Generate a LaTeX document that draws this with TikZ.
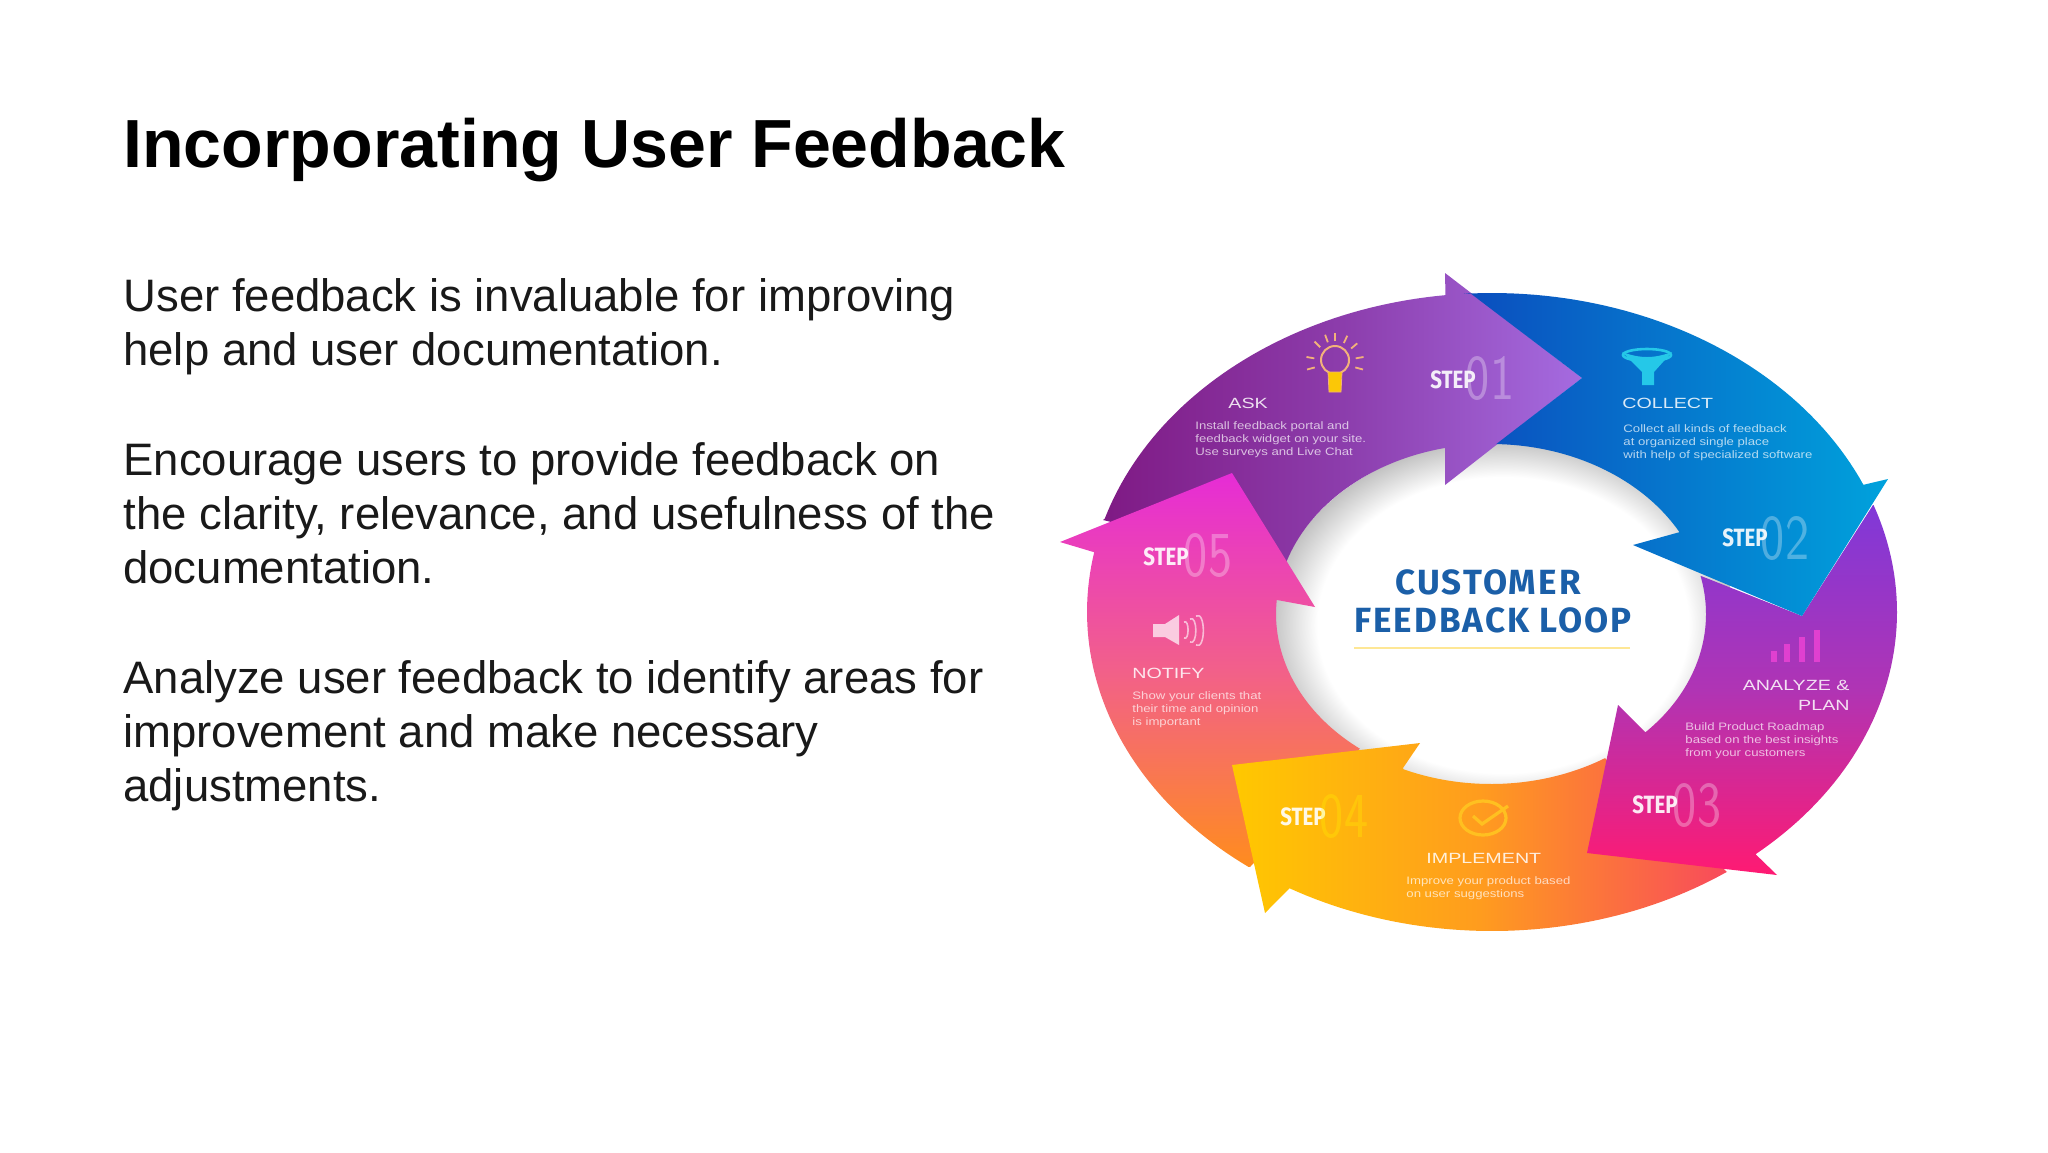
\documentclass[tikz,border=0pt]{standalone}
\usepackage{fontspec}
\usepackage{graphicx}
\setmainfont{Liberation Sans}
\newfontfamily\loopfont{Fira Sans}[LetterSpace=6]
\newfontfamily\stepfont{Fira Sans}[FakeStretch=0.82]
\newfontfamily\headfont{Liberation Sans}[FakeStretch=1.33]
\newfontfamily\labelfont{Liberation Sans}[FakeStretch=1.22]
\usetikzlibrary{positioning}

\definecolor{loopblue}{HTML}{1B5FA8}
\definecolor{askdark}{HTML}{7F1A84}
\definecolor{askmid}{HTML}{8C3DAC}
\definecolor{asklight}{HTML}{A56BE0}
\definecolor{bluedark}{HTML}{0B4DBE}
\definecolor{bluelight}{HTML}{00A2DC}
\definecolor{plantop}{HTML}{8038D8}
\definecolor{planmid}{HTML}{B034B4}
\definecolor{planlow}{HTML}{FF1A72}
\definecolor{doleft}{HTML}{FFC800}
\definecolor{domid}{HTML}{FF9C1E}
\definecolor{doright}{HTML}{F84A5C}
\definecolor{notifytop}{HTML}{E62CD6}
\definecolor{notifymid}{HTML}{F2608A}
\definecolor{notifylow}{HTML}{FF8C1E}
\definecolor{funnelcol}{HTML}{25C8E8}
\definecolor{barcol}{HTML}{E040D0}
\definecolor{checkcol}{HTML}{FFC020}
\definecolor{bulbcol}{HTML}{F2B27A}

\pgfdeclareradialshading{holeglow}{\pgfpoint{0bp}{0bp}}{color(0bp)=(white); color(20bp)=(white); color(25bp)=(black!24); color(50bp)=(black!24)}

\newcommand{\outerarc}[2]{-- plot[domain=#1:#2,samples=50] ({1492+405*cos(\x)},{612+319*sin(\x)})}
\newcommand{\innerarc}[2]{-- plot[domain=#1:#2,samples=40] ({1491+215*cos(\x)},{614+170*sin(\x)})}

\tikzset{
  bodytext/.style={anchor=north west, inner sep=0pt, align=left, text=black!90, font=\fontsize{22.75}{27.1}\selectfont},
  steplabel/.style={inner sep=0pt, text=white, text opacity=0.9, font=\stepfont\bfseries\fontsize{12.5}{14}\selectfont},
  stepnum/.style={inner sep=0pt, text=white, text opacity=0.3, font=\sffamily\fontsize{32}{34}\selectfont},
  headlabel/.style={inner sep=0pt, text=white, text opacity=0.85, align=left, font=\headfont\fontsize{7.4}{9.8}\selectfont},
  smalllabel/.style={inner sep=0pt, text=white, text opacity=0.7, align=left, font=\labelfont\fontsize{5.4}{6.5}\selectfont},
}

\begin{document}
\begin{tikzpicture}[x=0.5pt,y=-0.5pt]
\useasboundingbox (0,0) rectangle (2048,1152);

\node [anchor=base west, inner sep=0pt, font=\bfseries\fontsize{34.05}{38}\selectfont] (title) at (123,167) {Incorporating User Feedback};
\node [bodytext] (parone) at (123,278) {User feedback is invaluable for improving\\help and user documentation.};
\node [bodytext] (partwo) at (123,442) {Encourage users to provide feedback on\\the clarity, relevance, and usefulness of the\\documentation.};
\node [bodytext] (parthree) at (123,660) {Analyze user feedback to identify areas for\\improvement and make necessary\\adjustments.};

% hole in the middle
\shade [shading=holeglow] (1503,625) ellipse [x radius=232, y radius=185];

% arrows
\shade [left color=askdark, right color=asklight, middle color=askmid] (1103,520) \outerarc{197}{263.4} -- (1445,273) -- (1582,378) -- (1445,485) -- (1445,445) \innerarc{258}{197} -- cycle;

\shade [top color=notifytop, bottom color=notifylow, middle color=notifymid] (1250,867) \outerarc{127}{190.8} -- (1060,542) -- (1232,473) -- (1315,607) -- (1277,600) \innerarc{184.7}{127.6} -- cycle;

\shade [left color=doleft, right color=doright, middle color=domid] (1727,872) \outerarc{54.6}{120} -- (1265,913) -- (1232,765) -- (1420,743) -- (1403,768) \innerarc{114}{58} -- cycle;

\shade [top color=plantop, bottom color=planlow, middle color=planmid] (1873,505) \outerarc{-19.6}{49.4} -- (1777,875) -- (1587,853) -- (1618,705) -- (1645,732) \innerarc{44}{-13} -- (1802,616) -- cycle;

\shade [left color=bluedark, right color=bluelight] (1470,293) \outerarc{-94}{-23.5} -- (1888,479) -- (1802,616) -- (1633,545) -- (1680,532) \innerarc{-28.7}{-88.6} -- (1582,378) -- cycle;

% middle text
\node [text=loopblue, font=\loopfont\bfseries\fontsize{17.5}{20}\selectfont] (custom) at (1488,582) {CUSTOMER};
\node [text=loopblue, font=\loopfont\bfseries\fontsize{17.5}{20}\selectfont] (loop) at (1493,620) {FEEDBACK LOOP};
\draw [yellow!60!orange!40!white, thick] (1354,648) -- (1630,648);

% steps
\node [steplabel] (stepone) at (1453,380) {STEP};
\node [stepnum] (numone) at (1490,378) {\scalebox{0.8}[1]{01}};
\node [steplabel] (steptwo) at (1745,538) {STEP};
\node [stepnum] (numtwo) at (1785,538) {\scalebox{0.8}[1]{02}};
\node [steplabel] (stepthree) at (1655,805) {STEP};
\node [stepnum] (numthree) at (1697,805) {\scalebox{0.8}[1]{03}};
\node [steplabel] (stepfour) at (1303,817) {STEP};
\node [stepnum, text=yellow] (numfour) at (1344,816) {\scalebox{0.8}[1]{04}};
\node [steplabel] (stepfive) at (1166,557) {STEP};
\node [stepnum] (numfive) at (1208,555) {\scalebox{0.8}[1]{05}};

% labels
\node [headlabel, anchor=west] (ask) at (1228,403) {ASK};
\node [smalllabel, anchor=north west] (asktext) at (1195,421) {Install feedback portal and\\feedback widget on your site.\\Use surveys and Live Chat};
\node [headlabel, anchor=west] (collect) at (1622,403) {COLLECT};
\node [smalllabel, anchor=north west] (collecttext) at (1623,424) {Collect all kinds of feedback\\at organized single place\\with help of specialized software};
\node [headlabel, anchor=north east, align=right] (analyze) at (1850,680) {ANALYZE \&\\PLAN};
\node [smalllabel, anchor=north west] (analyzetext) at (1685,722) {Build Product Roadmap\\based on the best insights\\from your customers};
\node [headlabel, anchor=west] (implement) at (1426,858) {IMPLEMENT};
\node [smalllabel, anchor=north west] (implementtext) at (1406,876) {Improve your product based\\on user suggestions};
\node [headlabel, anchor=west] (notify) at (1132,673) {NOTIFY};
\node [smalllabel, anchor=north west] (notifytext) at (1132,691) {Show your clients that\\their time and opinion\\is important};

% icons
\foreach \a in {-170,-135,-110,-90,-65,-40,-10,15,165} {
  \draw [bulbcol, line width=0.9pt] (1335,362) ++(\a:21) -- ++(\a:8);
}
\draw [bulbcol, line width=1pt] (1335,360) circle [radius=14];
\fill [yellow!60!orange, draw=bulbcol] (1328,372) -- (1342,372) -- (1341,392) -- (1329,392) -- cycle;

\fill [funnelcol] (1622,352) to [out=-20,in=200] (1672,352) -- (1654,372) -- (1654,385) -- (1642,385) -- (1642,372) -- cycle;
\draw [funnelcol, line width=1.3pt] (1647,355) ellipse [x radius=24, y radius=6];

\fill [barcol] (1771,651) rectangle (1777,662);
\fill [barcol] (1784,644) rectangle (1790,662);
\fill [barcol] (1799,637) rectangle (1805,662);
\fill [barcol] (1814,630) rectangle (1820,662);

\fill [white, opacity=0.7] (1153,624) -- (1165,624) -- (1179,615) -- (1179,645) -- (1165,637) -- (1153,637) -- cycle;
\draw [white, opacity=0.6, line width=0.8pt] (1184,622) to [out=30,in=-30] (1184,638);
\draw [white, opacity=0.6, line width=0.8pt] (1190,619) to [out=30,in=-30] (1190,642);
\draw [white, opacity=0.6, line width=0.8pt] (1196,616) to [out=30,in=-30] (1196,645);

\draw [checkcol, line width=1.6pt] (1483,818) ellipse [x radius=23, y radius=17];
\draw [checkcol, line width=1.6pt] (1473,816) -- (1482,824) -- (1508,806);
\end{tikzpicture}
\end{document}
